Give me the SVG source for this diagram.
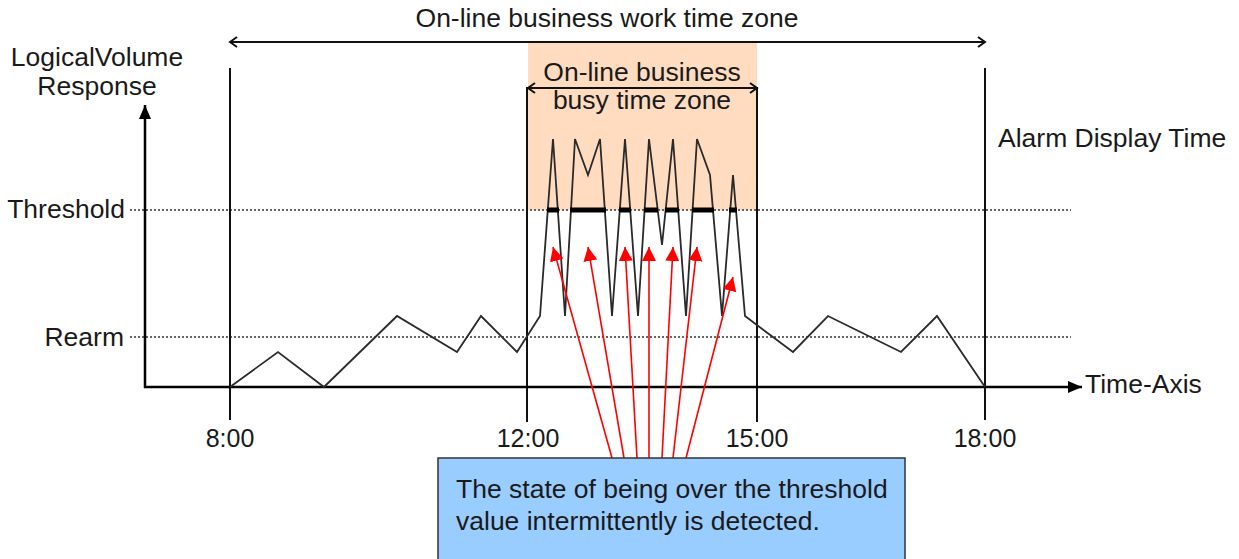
<svg xmlns="http://www.w3.org/2000/svg" width="1239" height="559" viewBox="0 0 1239 559">
<style>
text{font-family:"Liberation Sans",Arial,sans-serif;font-size:26.5px;fill:#1a1a1a}
.t{font-size:25px}
.v{stroke:#111;stroke-width:2;fill:none}
.dot{stroke:#333;stroke-width:1.6;stroke-dasharray:2 2;fill:none}
.red{stroke:#ff0000;stroke-width:1.6;fill:none;marker-end:url(#rh)}
.bar{stroke:#000;stroke-width:5;fill:none}
</style>
<defs>
<marker id="rh" markerUnits="userSpaceOnUse" markerWidth="16" markerHeight="16" refX="14" refY="7" orient="auto"><path d="M0,0 L14,7 L0,14 z" fill="#ff0000"/></marker>
<marker id="ah" markerUnits="userSpaceOnUse" markerWidth="16" markerHeight="14" refX="14" refY="6" orient="auto"><path d="M0,0 L14,6 L0,12 z" fill="#000"/></marker>
<marker id="open" markerUnits="userSpaceOnUse" markerWidth="12" markerHeight="14" refX="9" refY="6" orient="auto-start-reverse"><path d="M2,1 L9,6 L2,11" fill="none" stroke="#111" stroke-width="2"/></marker>
</defs>
<g id="busy-zone">
<rect x="528" y="42" width="229" height="168" fill="#ffdcc0"/>
</g>
<g id="grid">
<line class="dot" x1="130" y1="210" x2="1071" y2="210"/>
<line class="dot" x1="130" y1="337" x2="1071" y2="337"/>
<line class="v" x1="230" y1="68" x2="230" y2="420"/>
<line class="v" x1="527" y1="87" x2="527" y2="422"/>
<line class="v" x1="757" y1="87" x2="757" y2="422"/>
<line class="v" x1="985" y1="68" x2="985" y2="420"/>
</g>
<g id="axes">
<line x1="145" y1="388" x2="145" y2="105" stroke="#000" stroke-width="2.5" marker-end="url(#ah)"/>
<line x1="144" y1="387" x2="1082" y2="387" stroke="#000" stroke-width="2.5" marker-end="url(#ah)"/>
</g>
<g id="response-curve">
<polyline fill="none" stroke="#2a2a2a" stroke-width="1.8" stroke-linejoin="miter" points="230,387 278,352 324,387 397,316 457,352 481,316 517,352 540,316 553,139 565,316 575,139 588,175 600,139 612,316 625,139 638,316 649,139 662,245 673,139 686,316 697,139 710,175 722,316 733,175 745,316 793,352 828,316 901,352 937,316 985,387"/>
</g>
<g id="over-threshold-bars">
<line class="bar" x1="547" y1="210" x2="559" y2="210"/>
<line class="bar" x1="570" y1="210" x2="606" y2="210"/>
<line class="bar" x1="619" y1="210" x2="631" y2="210"/>
<line class="bar" x1="644" y1="210" x2="658" y2="210"/>
<line class="bar" x1="665" y1="210" x2="679" y2="210"/>
<line class="bar" x1="692" y1="210" x2="714" y2="210"/>
<line class="bar" x1="729" y1="210" x2="737" y2="210"/>
</g>
<g id="connectors">
<line x1="230" y1="42" x2="985" y2="42" stroke="#111" stroke-width="2" marker-start="url(#open)" marker-end="url(#open)"/>
<line x1="528" y1="88" x2="757" y2="88" stroke="#111" stroke-width="2" marker-start="url(#open)" marker-end="url(#open)"/>
<line class="red" x1="612" y1="458" x2="553" y2="247"/>
<line class="red" x1="624" y1="458" x2="588" y2="247"/>
<line class="red" x1="637" y1="458" x2="625" y2="247"/>
<line class="red" x1="649" y1="458" x2="649" y2="247"/>
<line class="red" x1="662" y1="458" x2="673" y2="247"/>
<line class="red" x1="673" y1="458" x2="697" y2="247"/>
<line class="red" x1="686" y1="458" x2="733" y2="277"/>
</g>
<g id="labels">
<text x="607" y="27" text-anchor="middle" font-size="27.5">On-line business work time zone</text>
<text x="642" y="81" text-anchor="middle">On-line business</text>
<text x="642" y="109" text-anchor="middle">busy time zone</text>
<text x="97" y="66" text-anchor="middle">LogicalVolume</text>
<text x="97" y="95" text-anchor="middle">Response</text>
<text x="125" y="218" text-anchor="end">Threshold</text>
<text x="124" y="346" text-anchor="end">Rearm</text>
<text x="998" y="147">Alarm Display Time</text>
<text x="1085" y="393">Time-Axis</text>
<text class="t" x="230" y="447" text-anchor="middle">8:00</text>
<text class="t" x="528" y="447" text-anchor="middle">12:00</text>
<text class="t" x="757" y="447" text-anchor="middle">15:00</text>
<text class="t" x="985" y="447" text-anchor="middle">18:00</text>
</g>
<g id="note">
<rect x="438" y="458" width="467" height="115" fill="#99ccff" stroke="#333" stroke-width="1.5"/>
<text x="456" y="498" font-size="27">The state of being over the threshold</text>
<text x="456" y="530" font-size="27">value intermittently is detected.</text>
</g>
</svg>
